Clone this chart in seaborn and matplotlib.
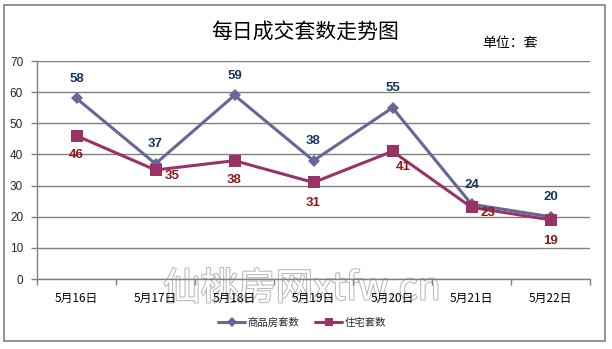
import matplotlib
matplotlib.use("Agg")
import matplotlib.pyplot as plt
import matplotlib.patheffects as pe
from matplotlib.patches import Rectangle
from matplotlib.lines import Line2D
import seaborn as sns
import pandas as pd

dates = ["5月16日", "5月17日", "5月18日", "5月19日", "5月20日", "5月21日", "5月22日"]
commercial = [58, 37, 59, 38, 55, 24, 20]
residential = [46, 35, 38, 31, 41, 23, 19]
series_names = ["商品房套数", "住宅套数"]
yticks = [0, 10, 20, 30, 40, 50, 60, 70]

sns.set_theme(style="white")
plt.rcParams['font.family'] = ['Noto Sans CJK SC', 'DejaVu Sans']

df = pd.DataFrame({
    "idx": list(range(len(dates))) * 2,
    "value": commercial + residential,
    "series": [series_names[0]] * len(dates) + [series_names[1]] * len(dates),
})

W, H = 612, 349
fig = plt.figure(figsize=(W / 100, H / 100), dpi=100)
fig.patch.set_facecolor("white")
fig.patches.append(Rectangle((4 / W, 1 - 341 / H), 601 / W, 336 / H, transform=fig.transFigure,
                             fill=False, edgecolor="#808080", linewidth=1.2))

# watermark (drawn behind the axes content)
fig.text(302 / W, 1 - 289 / H, "仙桃房网xtfw.cn", ha="center", va="center", fontsize=27,
         color="white", zorder=-1,
         path_effects=[pe.withStroke(linewidth=1.5, foreground="#b8b8b8")])

ax = fig.add_axes([37 / W, 1 - 279 / H, 553 / W, 218 / H])
ax.patch.set_alpha(0)
colors = {series_names[0]: "#666699", series_names[1]: "#993366"}
markers = {series_names[0]: "D", series_names[1]: "s"}
sns.lineplot(data=df, x="idx", y="value", hue="series", style="series",
             palette=colors, markers=markers, dashes=False, linewidth=2.2,
             markersize=7, markeredgewidth=0, ax=ax, legend=False)
for line, ms in zip(ax.lines, [6.5, 8]):
    line.set_markersize(ms)

ax.set_xlim(-0.5, len(dates) - 0.5)
ax.set_ylim(0, 70)
ax.set_yticks(yticks)
ax.set_yticklabels([str(v) for v in yticks], fontsize=8.5, family=['Liberation Sans'])
ax.set_xticks(range(len(dates)))
ax.set_xticklabels(dates, fontsize=8.5)
ax.set_xticks([i - 0.5 for i in range(len(dates) + 1)], minor=True)
ax.tick_params(axis="x", which="major", length=0, pad=9, colors="black")
ax.tick_params(axis="x", which="minor", length=4, width=1, color="#808080", direction="out", bottom=True)
ax.tick_params(axis="y", length=4, width=1, color="#808080", direction="out", left=True, pad=6)
ax.set_xlabel("")
ax.set_ylabel("")
ax.grid(axis="y", color="#808080", linewidth=1)
ax.set_axisbelow(True)
for s in ["top", "right"]:
    ax.spines[s].set_visible(False)
for s in ["left", "bottom"]:
    ax.spines[s].set_color("#808080")
    ax.spines[s].set_linewidth(1)

# data labels
for i, v in enumerate(commercial):
    ax.annotate(str(v), (i, v), xytext=(0, 14), textcoords="offset points", ha="center", va="center",
                fontsize=9.5, fontweight="bold", color="#17375E", family=['Liberation Sans'])
res_offsets = [(0, -14), (12, -4), (0, -14), (0, -15), (8, -11), (12, -4), (0, -15)]
for i, v in enumerate(residential):
    ax.annotate(str(v), (i, v), xytext=res_offsets[i], textcoords="offset points", ha="center", va="center",
                fontsize=9.5, fontweight="bold", color="#8B1A1A", family=['Liberation Sans'])

# title and unit
fig.text(305 / W, 1 - 32 / H, "每日成交套数走势图", ha="center", va="center", fontsize=15,
         fontweight="medium", color="black")
fig.text(510 / W, 1 - 43 / H, "单位：套", ha="center", va="center", fontsize=10, color="black")

# legend
handles = []
for name in series_names:
    handles.append(Line2D([0], [0], color=colors[name], marker=markers[name], linewidth=2.2,
                          markersize=5 if markers[name] == "D" else 6, markeredgewidth=0))
fig.legend(handles, series_names, loc="center", bbox_to_anchor=(302 / W, 1 - 323 / H),
           ncol=2, frameon=False, fontsize=7.5, handlelength=2.6, columnspacing=1.5, handletextpad=0.2)

fig.savefig("out.png", dpi=100, facecolor="white")
